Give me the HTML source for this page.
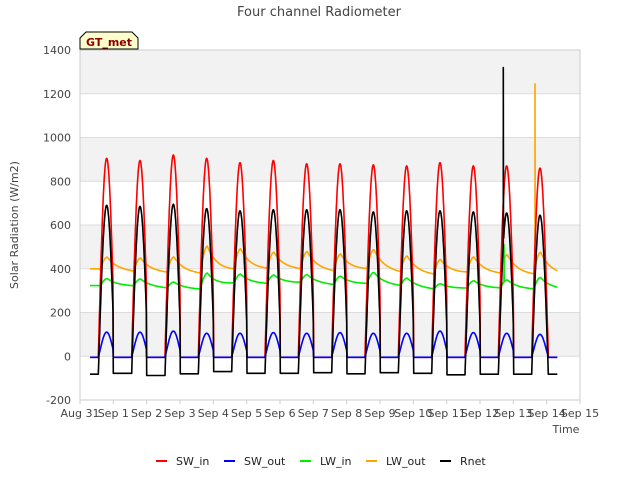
<!DOCTYPE html>
<html><head><meta charset="utf-8"><style>
body{margin:0;background:#fff;font-family:"Liberation Sans","DejaVu Sans",sans-serif}
svg text{font-family:"DejaVu Sans","Liberation Sans",sans-serif}
</style></head><body>
<svg id="c" width="640" height="480" xmlns="http://www.w3.org/2000/svg">
<text x="319" y="16" text-anchor="middle" font-size="13" fill="#444">Four channel Radiometer</text>
<g id="bands"></g>
<g id="grid"></g>
<g id="yticks"></g>
<g id="xticks"></g>
<g id="series"></g>
<text x="18" y="225" transform="rotate(-90 18 225)" text-anchor="middle" font-size="11" fill="#444">Solar Radiation (W/m2)</text>
<text x="566" y="433" text-anchor="middle" font-size="11" fill="#444">Time</text>
<g>
<path d="M80,49 L80,38 L86,32 L132,32 L138,38 L138,49 Z" fill="#ffffcc" stroke="#000" stroke-width="1"/>
<text x="109" y="46" text-anchor="middle" font-size="11" font-weight="bold" fill="#8b0000">GT_met</text>
</g>
<g id="legend"></g>
</svg>
<script>
const days = [0,1,2,3,4,5,6,7,8,9,10,11,12,13];
const swInPeak = [905,895,920,905,885,895,880,880,875,870,885,870,870,860];
const swOutPeak = [110,110,115,105,105,108,105,108,105,105,115,108,105,100];
const rnetPeak = [690,685,695,675,665,670,670,670,660,665,665,660,655,645];
const rnetNight = [-82,-78,-88,-80,-70,-78,-78,-75,-80,-75,-78,-85,-82,-82];
const lwInNight = [320,320,310,305,330,330,335,325,330,320,305,310,310,305];
const lwInPeak = [355,355,340,375,375,370,375,365,385,360,330,345,350,360];
const lwOutNight = [395,385,380,375,390,395,395,385,395,380,370,380,375,370];
const lwOutPeak = [455,450,455,500,490,475,480,465,490,460,440,455,465,475];
const yTicks = [-200,0,200,400,600,800,1000,1200,1400];
const xLabels = ["Aug 31","Sep 1","Sep 2","Sep 3","Sep 4","Sep 5","Sep 6","Sep 7","Sep 8","Sep 9","Sep 10","Sep 11","Sep 12","Sep 13","Sep 14","Sep 15"];
const spikeRnet = [12.7, 1320];
const spikeLwIn = [12.72, 510];
const spikeLwOut = [13.65, 1245];

const NS="http://www.w3.org/2000/svg";
const X0=80,X1=580,Y0=50,Y1=400,YMIN=-200,YMAX=1400;
const xs=d=>X0+(X1-X0)*d/15;
const ys=v=>Y1-(Y1-Y0)*(v-YMIN)/(YMAX-YMIN);
function mk(tag,attrs,parent){const e=document.createElementNS(NS,tag);for(const k in attrs)e.setAttribute(k,attrs[k]);parent.appendChild(e);return e;}

const bands=document.getElementById('bands');
mk('rect',{x:X0,y:Y0,width:X1-X0,height:Y1-Y0,fill:'#fff',stroke:'#ccc'},bands);
for(let i=0;i<yTicks.length-1;i++){
  if(i%2===1){const r=mk('rect',{x:X0,y:ys(yTicks[i+1]),width:X1-X0,height:ys(yTicks[i])-ys(yTicks[i+1]),fill:'#f2f2f2'},bands);
  
  }
}
const grid=document.getElementById('grid'),yt=document.getElementById('yticks'),xt=document.getElementById('xticks');
yTicks.forEach(v=>{
  mk('line',{x1:X0,x2:X1,y1:ys(v),y2:ys(v),stroke:'#dcdcdc'},grid);
  const t=mk('text',{x:X0-9,y:ys(v)+4,'text-anchor':'end','font-size':11,fill:'#444'},yt);
  t.textContent=v;
  
  
});
xLabels.forEach((l,i)=>{
  mk('line',{x1:xs(i),x2:xs(i),y1:Y1,y2:Y1+4,stroke:'#ccc'},xt);
  const t=mk('text',{x:xs(i),y:Y1+17,'text-anchor':'middle','font-size':11,fill:'#444'},xt);
  t.textContent=l;
  
  
});
mk('rect',{x:X0,y:Y0,width:X1-X0,height:Y1-Y0,fill:'none',stroke:'#ccc'},grid);

function bell(f){if(f<0.55||f>1.05)return 0;return Math.sin(Math.PI*(f-0.55)/0.5);}
const START=0.3,END=14.32;
function series(fn){const pts=[];for(let t=START;t<=END;t+=0.01){const i=Math.min(13,Math.floor(t));const f=t-i;pts.push([t,fn(i,f,t)]);}return pts;}
function lwSeries(night,peak){
  const pts=[];
  for(let t=START;t<=END;t+=0.01){
    let i=Math.floor(t-0.6);let u=t-0.6-i;
    let base,amp;
    if(i<0){i=0;u=1;}
    const ii=Math.min(13,i);
    const nNext=night[Math.min(13,ii+1)];
    let s;
    if(u<0.22)s=Math.sin(Math.PI/2*u/0.22);else s=Math.exp(-(u-0.22)*3.2);
    base=night[ii]+(nNext-night[ii])*u;
    if(t<0.6)base=night[0];
    pts.push([t,base+(peak[ii]-night[ii])*s]);
  }
  return pts;
}
const swIn=series((i,f)=>{const b=bell(f);return b>0?swInPeak[i]*b:-5;});
const swOut=series((i,f)=>{const b=bell(f);return b>0?swOutPeak[i]*Math.pow(b,1.2):-5;});
const lwIn=lwSeries(lwInNight,lwInPeak);
const lwOut=lwSeries(lwOutNight,lwOutPeak);
const rnet=series((i,f)=>{const b=bell(f);const n=rnetNight[i];return b>0?n+(rnetPeak[i]-n)*b:n;});
function addSpike(pts,sp){let k=pts.findIndex(p=>p[0]>=sp[0]);if(k>0){pts.splice(k,0,[sp[0],pts[k][1]],[sp[0],sp[1]],[sp[0]+0.005,pts[k][1]]);}}
addSpike(rnet,spikeRnet);addSpike(lwIn,spikeLwIn);addSpike(lwOut,spikeLwOut);

const S=document.getElementById('series');
function draw(pts,color,name){
  const p=mk('polyline',{points:pts.map(q=>xs(q[0]).toFixed(1)+','+ys(q[1]).toFixed(1)).join(' '),fill:'none',stroke:color,'stroke-width':1.6,'stroke-linejoin':'round'},S);
  
  
}
draw(lwOut,'#ffa500','lw-out-line');
draw(lwIn,'#00ee00','lw-in-line');
draw(swIn,'#ff0000','sw-in-line');
draw(swOut,'#0000ff','sw-out-line');
draw(rnet,'#000000','rnet-line');

const L=document.getElementById('legend');
[['SW_in','#ff0000',156],['SW_out','#0000ff',224],['LW_in','#00ee00',300],['LW_out','#ffa500',366],['Rnet','#000',440]].forEach(e=>{
  const g=mk('g',{},L);
  
  
  mk('line',{x1:e[2],x2:e[2]+11,y1:461,y2:461,stroke:e[1],'stroke-width':2},g);
  const t=mk('text',{x:e[2]+20,y:465,'font-size':11,fill:'#222'},g);t.textContent=e[0];
});
</script>
</body></html>
